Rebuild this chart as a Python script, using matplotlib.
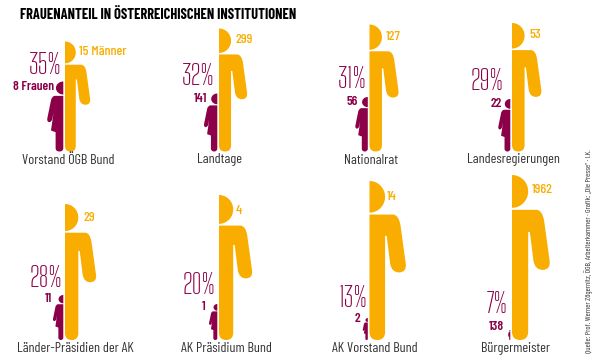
import math
import matplotlib
matplotlib.use('Agg')
import matplotlib.pyplot as plt
from matplotlib.path import Path
from matplotlib.patches import PathPatch

labels = ['Vorstand ÖGB Bund', 'Landtage', 'Nationalrat', 'Landesregierungen',
          'Länder-Präsidien der AK', 'AK Präsidium Bund', 'AK Vorstand Bund', 'Bürgermeister']
share = ['35%', '32%', '31%', '29%', '28%', '20%', '13%', '7%']
men = ['15 Männer', '299', '127', '53', '29', '4', '14', '1962']
women = ['8 Frauen', '141', '56', '22', '11', '1', '2', '138']
men_height = [110, 123, 127, 128.5, 136, 145, 159, 165]
women_height = [70, 58, 54.5, 52.5, 45, 36, 22, 10]

# layout, in pixels of the 600x360 picture
col_x = [65, 219, 369.5, 512]
row_base = [151.5, 340]
share_pos = [(62, 66), (215, 77), (367, 80), (504, 82), (62, 279), (216, 286), (367, 299), (508, 305)]
women_pos = [(54, 87), (207, 99), (358, 102), (502, 104), (52, 299), (206, 307), (360, 319), (504, 327)]
men_pos = [(79, 52), (235, 40), (386, 37), (529, 35), (83, 218), (236, 211), (387, 197), (532, 190)]
label_x = [68, 220, 371, 513, 75, 226, 375, 515]

gold = '#F9AD00'
plum = '#8B0048'
font = ['Barlow Condensed', 'DejaVu Sans']
font_thin = ['Big Shoulders Text', 'DejaVu Sans']

fig = plt.figure(figsize=(6, 3.6), dpi=100)
ax = fig.add_axes([0, 0, 1, 1])
ax.set_xlim(0, 600)
ax.set_ylim(360, 0)
ax.axis('off')

M, L, C = Path.MOVETO, Path.LINETO, Path.CURVE3
man_verts = [(0, .211), (.15, .211), (.185, .215), (.195, .28), (.228, .52), (.235, .575), (.185, .575),
             (.14, .575), (.13, .52), (.108, .345), (.098, .345), (.098, .95), (.098, 1.0), (.049, 1.0),
             (0, 1.0), (0, .95), (0, .211)]
man_codes = [M, L, C, C, L, C, C, C, C, L, L, L, C, C, C, C, L]
woman_verts = [(0, .205), (-.12, .205), (-.165, .21), (-.176, .27), (-.229, .53), (-.235, .58), (-.2, .58),
               (-.165, .58), (-.157, .533), (-.138, .44), (-.176, .70), (-.11, .724), (-.11, .95), (-.11, 1.0),
               (-.055, 1.0), (0, 1.0), (0, .95), (0, .205)]
woman_codes = [M, L, C, C, L, C, C, C, C, L, L, L, L, C, C, C, C, L]


def person(x, base, h, verts, codes, color, head_w, head_h, side):
    pts = [(x + vx * h, base - h + vy * h) for vx, vy in verts]
    ax.add_patch(PathPatch(Path(pts, codes), fc=color, ec='none'))
    cy = base - h + head_h * h / 2
    steps = [i / 30 for i in range(31)]
    hx = [x + side * head_w * h * math.sin(math.pi * s) for s in steps]
    hy = [cy - math.cos(math.pi * s) * head_h * h / 2 for s in steps]
    ax.fill(hx, hy, color=color, lw=0)


for i in range(8):
    x = col_x[i % 4]
    base = row_base[i // 4]
    person(x, base, men_height[i], man_verts, man_codes, gold, .098, .199, 1)
    person(x - 1.7, base, women_height[i], woman_verts, woman_codes, plum, .105, .186, -1)
    ax.text(label_x[i], base + 8.5, labels[i], family=font, fontsize=10.2, color='#333333', ha='center', va='center')
    ax.text(men_pos[i][0], men_pos[i][1], men[i], family=font, fontsize=10, weight='medium', color=gold, va='center')
    ax.text(women_pos[i][0], women_pos[i][1], women[i], family=font, fontsize=9.6, weight='semibold', color=plum,
            ha='right', va='center')
    ax.text(share_pos[i][0], share_pos[i][1], share[i], family=font_thin, fontsize=20.5, color=plum,
            ha='right', va='center')

ax.text(20, 15, 'FRAUENANTEIL IN ÖSTERREICHISCHEN INSTITUTIONEN', family=font, fontsize=10.4, weight='bold',
        color='black', va='center')
ax.text(588.7, 353, 'Quelle: Prof. Werner Zögernitz, ÖGB, Arbeiterkammer · Grafik: „Die Presse“ · I.K.', family=font,
        fontsize=5.6, color='#333333', rotation=90, ha='center', va='bottom')

fig.savefig('out.png', dpi=100)
